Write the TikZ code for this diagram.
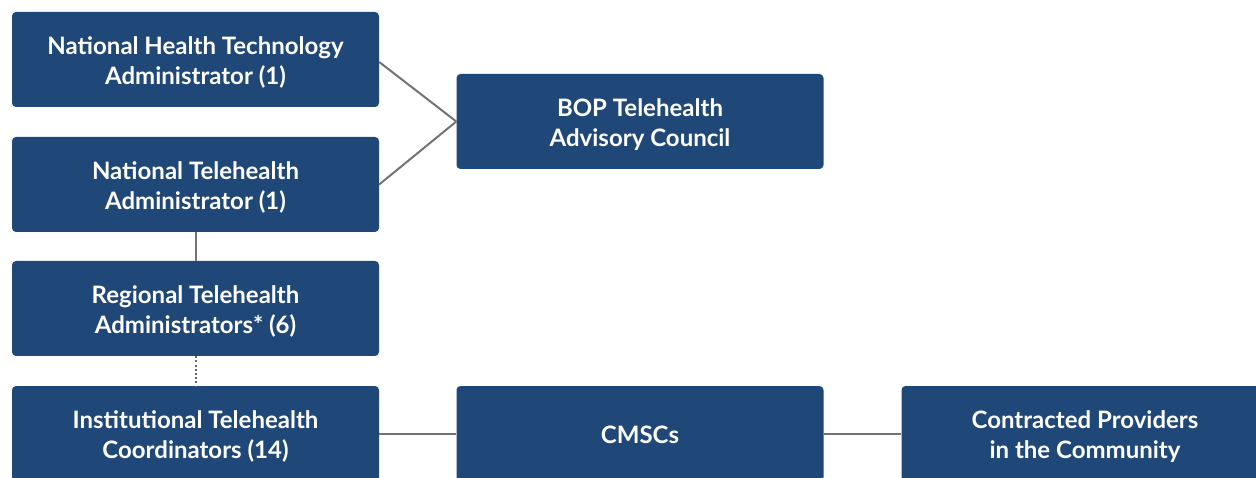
\documentclass[tikz,border=0pt]{standalone}
\usepackage{fontspec}
\setmainfont{Lato}
\definecolor{boxblue}{RGB}{31,71,120}
\definecolor{linegray}{RGB}{115,115,115}
\begin{document}
\begin{tikzpicture}[x=1pt,y=-1pt,
  orgbox/.style={fill=boxblue, rounded corners=4pt, minimum width=367pt, minimum height=95pt,
    inner sep=0pt},
  txt/.style={text=white, align=center, inner sep=0pt, font=\fontsize{24}{30}\selectfont\bfseries},
  conn/.style={draw=linegray, line width=2pt},
  dotconn/.style={draw=linegray!90!black, line width=2pt, dash pattern=on 2pt off 2.2pt}]
\useasboundingbox (0,0) rectangle (1256,478);
\clip (0,0) rectangle (1256,478);
\node[orgbox] (a) at (195.5,59.5) {};
\node[orgbox] (b) at (195.5,184.5) {};
\node[orgbox] (c) at (195.5,308.5) {};
\node[orgbox] (d) at (195.5,433.5) {};
\node[orgbox] (e) at (640,121.5) {};
\node[orgbox] (f) at (640,433.5) {};
\node[orgbox] (g) at (1085,433.5) {};
\node[txt] (ta) at ([yshift=-3pt]a.center) {National Health Technology\\Administrator (1)};
\node[txt] (tb) at ([yshift=-3pt]b.center) {National Telehealth\\Administrator (1)};
\node[txt] (tc) at ([yshift=-3pt]c.center) {Regional Telehealth\\Administrators* (6)};
\node[txt] (td) at ([yshift=-3pt]d.center) {Institutional Telehealth\\Coordinators (14)};
\node[txt] (te) at ([yshift=-3pt]e.center) {BOP Telehealth\\Advisory Council};
\node[txt] (tf) at ([yshift=-1pt]f.center) {CMSCs};
\node[txt] (tg) at ([yshift=-3pt]g.center) {Contracted Providers\\in the Community};
\draw[conn] ([yshift=-2.5pt]a.east) -- (e.west);
\draw[conn] (b.east) -- (e.west);
\draw[conn] (b.south) -- (c.north);
\draw[dotconn] (c.south) -- (d.north);
\draw[conn] (d.east) -- (f.west);
\draw[conn] (f.east) -- (g.west);
\end{tikzpicture}
\end{document}
